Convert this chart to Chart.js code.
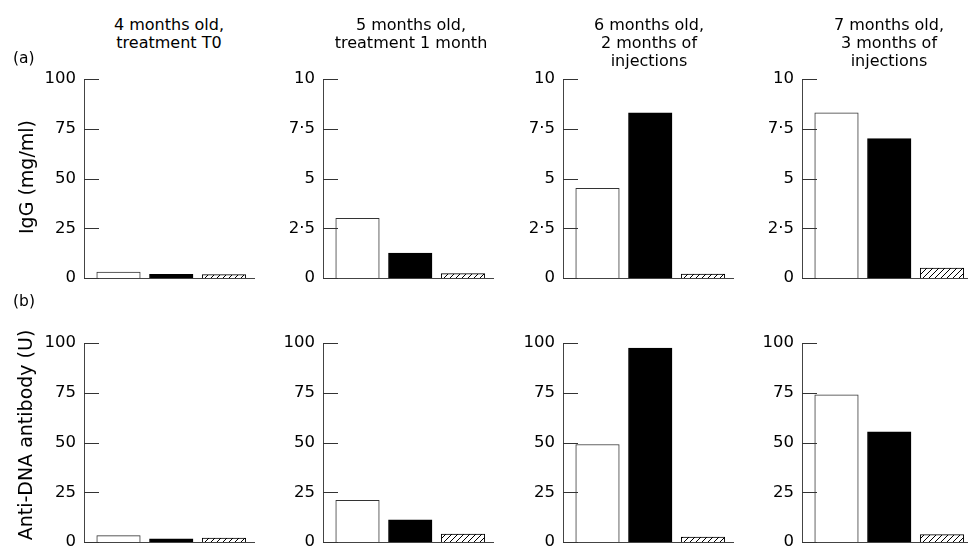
<!DOCTYPE html>
<html><head><meta charset="utf-8">
<script src="https://cdn.jsdelivr.net/npm/chart.js@4/dist/chart.umd.min.js"></script>
<style>
html,body{margin:0;padding:0;background:#fff;overflow:hidden;}
#fig{position:relative;width:968px;height:554px;font-family:"DejaVu Sans",sans-serif;color:#000;overflow:hidden;}
#fig canvas{position:absolute;}
.title{position:absolute;width:240px;text-align:center;font-size:16px;line-height:18px;white-space:nowrap;}
.tag{position:absolute;font-size:15.5px;line-height:20px;}
.ylab{position:absolute;white-space:nowrap;font-size:19px;transform:translate(-50%,-50%) rotate(-90deg);}
</style></head><body><div id="fig"></div>
<script>
// ---- data ----
const barGroups = ['Open', 'Filled', 'Hatched'];
const panelTitles = [
  ['4 months old,', 'treatment T0'],
  ['5 months old,', 'treatment 1 month'],
  ['6 months old,', '2 months of', 'injections'],
  ['7 months old,', '3 months of', 'injections']
];
const rowTags = ['(a)', '(b)'];
const rowAxisTitles = ['IgG (mg/ml)', 'Anti-DNA antibody (U)'];
const igg4mo = [3.0, 1.8, 1.7];
const igg5mo = [3.0, 1.25, 0.22];
const igg6mo = [4.5, 8.3, 0.2];
const igg7mo = [8.3, 7.0, 0.5];
const dna4mo = [3.2, 1.6, 2.0];
const dna5mo = [21, 11.2, 4.0];
const dna6mo = [49, 97.5, 2.5];
const dna7mo = [74, 55.3, 3.7];
const iggMax = [100, 10, 10, 10];
const dnaMax = [100, 100, 100, 100];
const ticks100 = ['0', '25', '50', '75', '100'];
const ticks10 = ['0', '2·5', '5', '7·5', '10'];

// ---- layout ----
const fig = document.getElementById('fig');
const columns = [
  {axisX: 84, plotW: 170, titleC: 169},
  {axisX: 323, plotW: 170, titleC: 411},
  {axisX: 563, plotW: 170, titleC: 649},
  {axisX: 802, plotW: 166, titleC: 889}
];
const rows = [
  {zeroY: 278, tagTop: 48, labC: {x: 26, y: 177}},
  {zeroY: 542, tagTop: 291, labC: {x: 25, y: 435}}
];
const plotH = 199, padL = 60, padT = 22, padB = 22, padR = 2;
const barStep = 52.75, firstBar = 34.5, barW = 43.5;

// hatch pattern
const pc = document.createElement('canvas');
pc.width = 6; pc.height = 6;
const pctx = pc.getContext('2d');
pctx.fillStyle = '#fff'; pctx.fillRect(0, 0, 6, 6);
pctx.strokeStyle = '#000'; pctx.lineWidth = 1;
pctx.beginPath();
pctx.moveTo(-1, 7); pctx.lineTo(7, -1);
pctx.moveTo(-1, 1); pctx.lineTo(1, -1);
pctx.moveTo(5, 7); pctx.lineTo(7, 5);
pctx.stroke();
const hatch = pctx.createPattern(pc, 'repeat');

const innerTicks = {
  id: 'innerTicks',
  afterDraw(chart) {
    const s = chart.scales.y, ctx = chart.ctx, L = chart.chartArea.left;
    ctx.save();
    ctx.strokeStyle = '#333'; ctx.lineWidth = 1;
    ctx.beginPath();
    s.ticks.forEach(t => {
      const y = Math.round(s.getPixelForValue(t.value)) + 0.5;
      ctx.moveTo(L, y); ctx.lineTo(L + 15, y);
    });
    ctx.stroke();
    ctx.restore();
  }
};

function makeChart(r, c, values, yMax, tickLabels) {
  const col = columns[c], row = rows[r];
  const cv = document.createElement('canvas');
  cv.width = padL + col.plotW + padR;
  cv.height = padT + plotH + padB;
  cv.style.left = (col.axisX - padL) + 'px';
  cv.style.top = (row.zeroY - plotH - padT) + 'px';
  fig.appendChild(cv);
  new Chart(cv, {
    type: 'bar',
    data: {
      datasets: [{
        label: rowAxisTitles[r],
        data: values.map((v, i) => ({x: i, y: v, g: barGroups[i]})),
        backgroundColor: ['#fff', '#000', hatch],
        borderColor: ['#333', '#000', '#000'],
        borderWidth: 1,
        barThickness: barW
      }]
    },
    options: {
      responsive: false, animation: false, devicePixelRatio: 1,
      layout: {padding: {top: padT, bottom: padB, left: 0, right: padR}},
      plugins: {legend: {display: false}, tooltip: {enabled: false}},
      scales: {
        x: {
          type: 'linear', z: 1, offset: false,
          min: -firstBar / barStep, max: (col.plotW - firstBar) / barStep,
          grid: {display: false, drawTicks: false},
          ticks: {display: false, includeBounds: false, stepSize: 1},
          border: {display: true, color: '#444', width: 1},
          afterFit: s => { s.height = 0; }
        },
        y: {
          min: 0, max: yMax, z: 1,
          ticks: {stepSize: yMax / 4, padding: 8, color: '#000',
            font: {family: 'DejaVu Sans', size: 16.5},
            callback: (v, i) => tickLabels[i]},
          grid: {display: false, drawTicks: false},
          border: {display: true, color: '#444', width: 1},
          afterFit: s => { s.width = padL; }
        }
      }
    },
    plugins: [innerTicks]
  });
}

const iggSets = [igg4mo, igg5mo, igg6mo, igg7mo];
const dnaSets = [dna4mo, dna5mo, dna6mo, dna7mo];
iggSets.forEach((v, c) => makeChart(0, c, v, iggMax[c], iggMax[c] === 100 ? ticks100 : ticks10));
dnaSets.forEach((v, c) => makeChart(1, c, v, dnaMax[c], dnaMax[c] === 100 ? ticks100 : ticks10));

// text
panelTitles.forEach((lines, c) => {
  const d = document.createElement('div');
  d.className = 'title';
  d.style.left = (columns[c].titleC - 120) + 'px';
  d.style.top = '16px';
  d.innerHTML = lines.join('<br>');
  fig.appendChild(d);
});
rows.forEach((row, r) => {
  const t = document.createElement('div');
  t.className = 'tag'; t.textContent = rowTags[r];
  t.style.left = '13px'; t.style.top = row.tagTop + 'px';
  fig.appendChild(t);
  const l = document.createElement('div');
  l.className = 'ylab'; l.textContent = rowAxisTitles[r];
  l.style.left = row.labC.x + 'px'; l.style.top = row.labC.y + 'px';
  fig.appendChild(l);
});
</script>
</body></html>
